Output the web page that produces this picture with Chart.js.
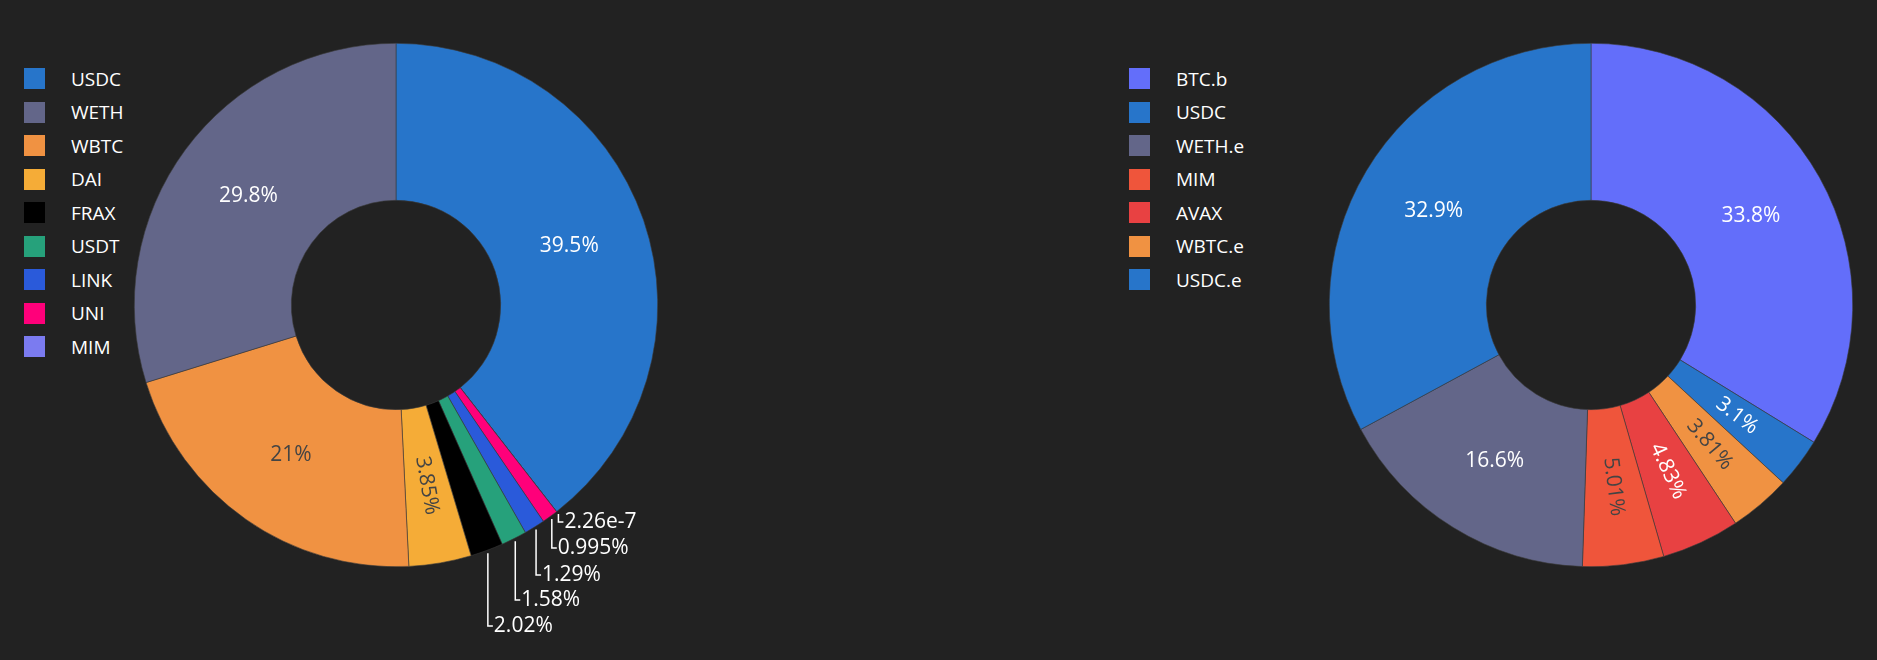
<!DOCTYPE html>
<html>
<head>
<meta charset="utf-8">
<script src="https://cdn.jsdelivr.net/npm/chart.js@4"></script>
<style>
  html, body { margin:0; padding:0; background:#222222; width:1877px; height:660px; overflow:hidden; font-family:"Open Sans", "DejaVu Sans", sans-serif; }
  .cv { position:absolute; top:0; }
  .legend { position:absolute; top:62px; color:#fff; font-size:19px; }
  .legend div { height:33.5px; display:flex; align-items:center; }
  .legend span.sw { display:inline-block; width:21px; height:21px; margin-right:26px; }
</style>
</head>
<body>
<div class="legend" id="leg-left" style="left:24px"></div>
<canvas id="chart-left" class="cv" style="left:96px" width="600" height="660"></canvas>
<div class="legend" id="leg-right" style="left:1129px"></div>
<canvas id="chart-right" class="cv" style="left:1305px" width="572" height="660"></canvas>
<script>
// Left chart (slice order clockwise from top)
const leftTokens = ['USDC', 'MIM', 'UNI', 'LINK', 'USDT', 'FRAX', 'DAI', 'WBTC', 'WETH'];
const leftShares = [39.5, 2.26e-7, 0.995, 1.29, 1.58, 2.02, 3.85, 21, 29.8];
const leftLegend = ['USDC', 'WETH', 'WBTC', 'DAI', 'FRAX', 'USDT', 'LINK', 'UNI', 'MIM'];

// Right chart
const rightTokens = ['BTC.b', 'USDC', 'WBTC.e', 'AVAX', 'MIM', 'WETH.e', 'USDC.e'];
const rightShares = [33.8, 3.1, 3.81, 4.83, 5.01, 16.6, 32.9];
const rightLegend = ['BTC.b', 'USDC', 'WETH.e', 'MIM', 'AVAX', 'WBTC.e', 'USDC.e'];

const tokenColors = {
    'USDC':'#2775ca', 'USDC.e':'#2775ca', 'WETH':'#636689', 'WETH.e':'#636689',
    'WBTC':'#f09242', 'WBTC.e':'#f09242', 'DAI':'#f5ac37', 'FRAX':'#000000',
    'USDT':'#26a17b', 'LINK':'#2a5ada', 'UNI':'#ff007a', 'MIM':'#7b7bf0',
    'BTC.b':'#636efa', 'AVAX':'#e84142'
};
const rightMim = '#ef553b';

// outside label text-centre y (canvas px) for the tiny slices on the left
const outsideY = { 'MIM':522, 'UNI':548, 'LINK':575, 'USDT':600, 'FRAX':626 };

function lum(hex) {
    const c = [1,3,5].map(i => { let v = parseInt(hex.substr(i,2),16)/255; return v <= 0.03928 ? v/12.92 : Math.pow((v+0.055)/1.055, 2.4); });
    return 0.2126*c[0] + 0.7152*c[1] + 0.0722*c[2];
}
function fmt(v) { return v < 1e-3 ? String(v) : String(v) + '%'; }

const sliceLabels = {
    id: 'sliceLabels',
    afterDatasetsDraw(chart, args, opts) {
        const ctx = chart.ctx;
        const ds = chart.data.datasets[0];
        const meta = chart.getDatasetMeta(0);
        ctx.save();
        ctx.font = '21px "Open Sans", "DejaVu Sans", sans-serif';
        ctx.textBaseline = 'middle';
        meta.data.forEach((arc, i) => {
            const p = arc.getProps(['x','y','startAngle','endAngle','innerRadius','outerRadius'], true);
            const mid = (p.startAngle + p.endAngle) / 2;
            const v = ds.data[i];
            const name = chart.data.labels[i];
            const txt = fmt(v);
            if (opts.outside && opts.outside[name] !== undefined) {
                const sx = p.x + Math.cos(mid) * (p.outerRadius + 3);
                const sy = p.y + Math.sin(mid) * (p.outerRadius + 3);
                const ty = opts.outside[name];
                ctx.strokeStyle = '#fff'; ctx.lineWidth = 1.5;
                ctx.beginPath(); ctx.moveTo(sx, sy); ctx.lineTo(sx, ty); ctx.lineTo(sx + 5, ty); ctx.stroke();
                ctx.fillStyle = '#fff'; ctx.textAlign = 'left';
                ctx.fillText(txt, sx + 6, ty);
                return;
            }
            const r = (p.innerRadius + p.outerRadius) / 2;
            const x = p.x + Math.cos(mid) * r, y = p.y + Math.sin(mid) * r;
            const col = ds.backgroundColor[i];
            ctx.fillStyle = lum(col) > 0.23 ? '#444444' : '#ffffff';
            ctx.textAlign = 'center';
            ctx.save();
            ctx.translate(x, y);
            if (v < 6) {
                let a = mid;
                while (a > Math.PI/2) a -= Math.PI;
                while (a < -Math.PI/2) a += Math.PI;
                ctx.rotate(a);
            }
            ctx.fillText(txt, 0, 0);
            ctx.restore();
        });
        ctx.restore();
    }
};

function makeLegend(el, names, colorOf) {
    document.getElementById(el).innerHTML = names.map(n =>
        `<div><span class="sw" style="background:${colorOf(n)}"></span>${n}</div>`).join('');
}

function makeChart(id, labels, values, colors, padding, outside) {
    new Chart(document.getElementById(id), {
        type: 'doughnut',
        data: { labels: labels, datasets: [{ data: values, backgroundColor: colors, borderColor: '#3a3a3a', borderWidth: 0.6 }] },
        options: {
            responsive: false, animation: false, cutout: '40%',
            layout: { padding: padding },
            plugins: { legend: { display: false }, tooltip: { enabled: false }, sliceLabels: { outside: outside } }
        },
        plugins: [sliceLabels]
    });
}

const rightColor = n => n === 'MIM' ? rightMim : tokenColors[n];
makeLegend('leg-left', leftLegend, n => tokenColors[n]);
makeLegend('leg-right', rightLegend, rightColor);
makeChart('chart-left', leftTokens, leftShares, leftTokens.map(n => tokenColors[n]),
    { left:38, right:38, top:43, bottom:93 }, outsideY);
makeChart('chart-right', rightTokens, rightShares, rightTokens.map(rightColor),
    { left:24, right:24, top:43, bottom:93 }, null);
</script>
</body>
</html>
